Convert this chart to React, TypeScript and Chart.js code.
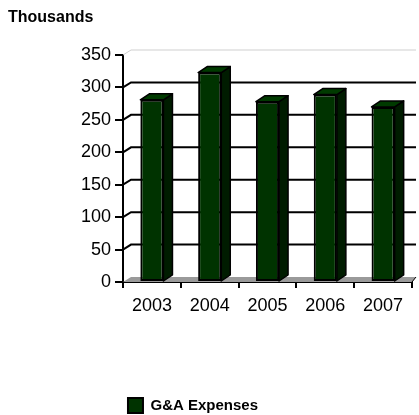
import React, { useEffect, useRef } from 'react';
import { Chart, registerables } from 'chart.js';

Chart.register(...registerables);

const categories: string[] = ['2003', '2004', '2005', '2006', '2007'];
const gaExpenses: number[] = [281, 323, 278, 289, 270];
const seriesLabel = 'G&A Expenses';
const unitTitle = 'Thousands';
const yMin = 0;
const yMax = 350;
const yStep = 50;

const FONT = "'Liberation Sans', Arial, sans-serif";
const WALL_DX = 8;
const WALL_DX_RIGHT = 4;
const WALL_DY = 5;
const BAR_DX = 9;
const BAR_DY = 6;

const threeD = {
  id: 'threeD',
  beforeDatasetsDraw(chart: any) {
    const { ctx, chartArea, scales } = chart;
    const { left, right, bottom } = chartArea;
    const y = scales.y;
    ctx.save();
    // floor
    ctx.beginPath();
    ctx.moveTo(left, bottom);
    ctx.lineTo(right, bottom);
    ctx.lineTo(right + WALL_DX_RIGHT, bottom - WALL_DY);
    ctx.lineTo(left + WALL_DX, bottom - WALL_DY);
    ctx.closePath();
    ctx.fillStyle = '#9a9a9a';
    ctx.fill();
    ctx.strokeStyle = '#000';
    ctx.lineWidth = 1;
    ctx.beginPath();
    ctx.moveTo(right, bottom);
    ctx.lineTo(right + WALL_DX_RIGHT, bottom - WALL_DY);
    ctx.stroke();
    // back wall grid lines
    y.ticks.forEach((t: any) => {
      const v = t.value;
      if (v === yMin) return;
      const py = y.getPixelForValue(v);
      const isTop = v === yMax;
      ctx.strokeStyle = isTop ? '#cfcfcf' : '#000';
      ctx.lineWidth = isTop ? 1 : 2;
      ctx.beginPath();
      ctx.moveTo(left, py);
      ctx.lineTo(left + WALL_DX, py - WALL_DY);
      ctx.lineTo(right + WALL_DX_RIGHT, py - WALL_DY);
      ctx.stroke();
    });
    ctx.restore();
  },
  afterDatasetsDraw(chart: any) {
    const { ctx } = chart;
    const meta = chart.getDatasetMeta(0);
    ctx.save();
    ctx.strokeStyle = '#000';
    ctx.lineWidth = 1.5;
    ctx.lineJoin = 'round';
    meta.data.forEach((bar: any) => {
      const { x, y, base, width } = bar.getProps(['x', 'y', 'base', 'width'], true);
      const l = x - width / 2;
      const r = x + width / 2;
      // side face
      ctx.beginPath();
      ctx.moveTo(r, y);
      ctx.lineTo(r + BAR_DX, y - BAR_DY);
      ctx.lineTo(r + BAR_DX, base - BAR_DY);
      ctx.lineTo(r, base);
      ctx.closePath();
      ctx.fillStyle = '#001c00';
      ctx.fill();
      ctx.stroke();
      // top face
      ctx.beginPath();
      ctx.moveTo(l, y);
      ctx.lineTo(l + BAR_DX, y - BAR_DY);
      ctx.lineTo(r + BAR_DX, y - BAR_DY);
      ctx.lineTo(r, y);
      ctx.closePath();
      ctx.fillStyle = '#003a00';
      ctx.fill();
      ctx.stroke();
    });
    ctx.restore();
  },
};

const legendShift = {
  id: 'legendShift',
  afterLayout(chart: any) {
    const lg = chart.legend;
    if (lg) {
      lg.left -= 17;
      lg.right -= 17;
    }
  },
};

export default function App() {
  const canvasRef = useRef<HTMLCanvasElement | null>(null);

  useEffect(() => {
    if (!canvasRef.current) return;
    Chart.defaults.font.family = FONT;
    const chart = new Chart(canvasRef.current, {
      type: 'bar',
      data: {
        labels: categories,
        datasets: [
          {
            label: seriesLabel,
            data: gaExpenses,
            backgroundColor: '#003300',
            borderColor: '#000000',
            borderWidth: 2,
            borderSkipped: false,
            barPercentage: 0.4,
            categoryPercentage: 1,
          },
        ],
      },
      options: {
        animation: false,
        responsive: true,
        maintainAspectRatio: false,
        layout: { padding: { left: 8, right: 7, top: 0, bottom: -8 } },
        plugins: {
          title: {
            display: true,
            text: unitTitle,
            align: 'start',
            color: '#000',
            font: { family: FONT, size: 16, weight: 'bold' },
            padding: { top: 8, bottom: 27.8 },
          },
          legend: {
            display: true,
            position: 'bottom',
            labels: {
              color: '#000',
              font: { family: FONT, size: 15, weight: 'bold' },
              boxWidth: 15,
              boxHeight: 15,
              padding: 2,
            },
          },
          tooltip: { enabled: false },
        },
        scales: {
          x: {
            type: 'category',
            offset: true,
            grid: {
              offset: true,
              drawOnChartArea: false,
              drawTicks: true,
              tickLength: 6,
              color: '#000',
              lineWidth: 2,
            },
            border: { display: true, color: '#000', width: 2 },
            ticks: {
              color: '#000',
              font: { family: FONT, size: 18 },
              padding: 7,
              maxRotation: 0,
            },
            afterFit: (s: any) => {
              s.height = 114;
            },
          },
          y: {
            type: 'linear',
            min: yMin,
            max: yMax,
            grid: {
              drawOnChartArea: false,
              drawTicks: true,
              tickLength: 8,
              color: '#000',
              lineWidth: 2,
            },
            border: { display: true, color: '#000', width: 2 },
            ticks: {
              stepSize: yStep,
              color: '#000',
              font: { family: FONT, size: 18 },
              padding: 4,
            },
            afterFit: (s: any) => {
              s.width = 115;
            },
          },
        },
      },
      plugins: [threeD, legendShift],
    });
    return () => chart.destroy();
  }, []);

  return (
    <div style={{ position: 'absolute', left: 0, top: 0, width: 419, height: 415 }}>
      <canvas ref={canvasRef} />
    </div>
  );
}
